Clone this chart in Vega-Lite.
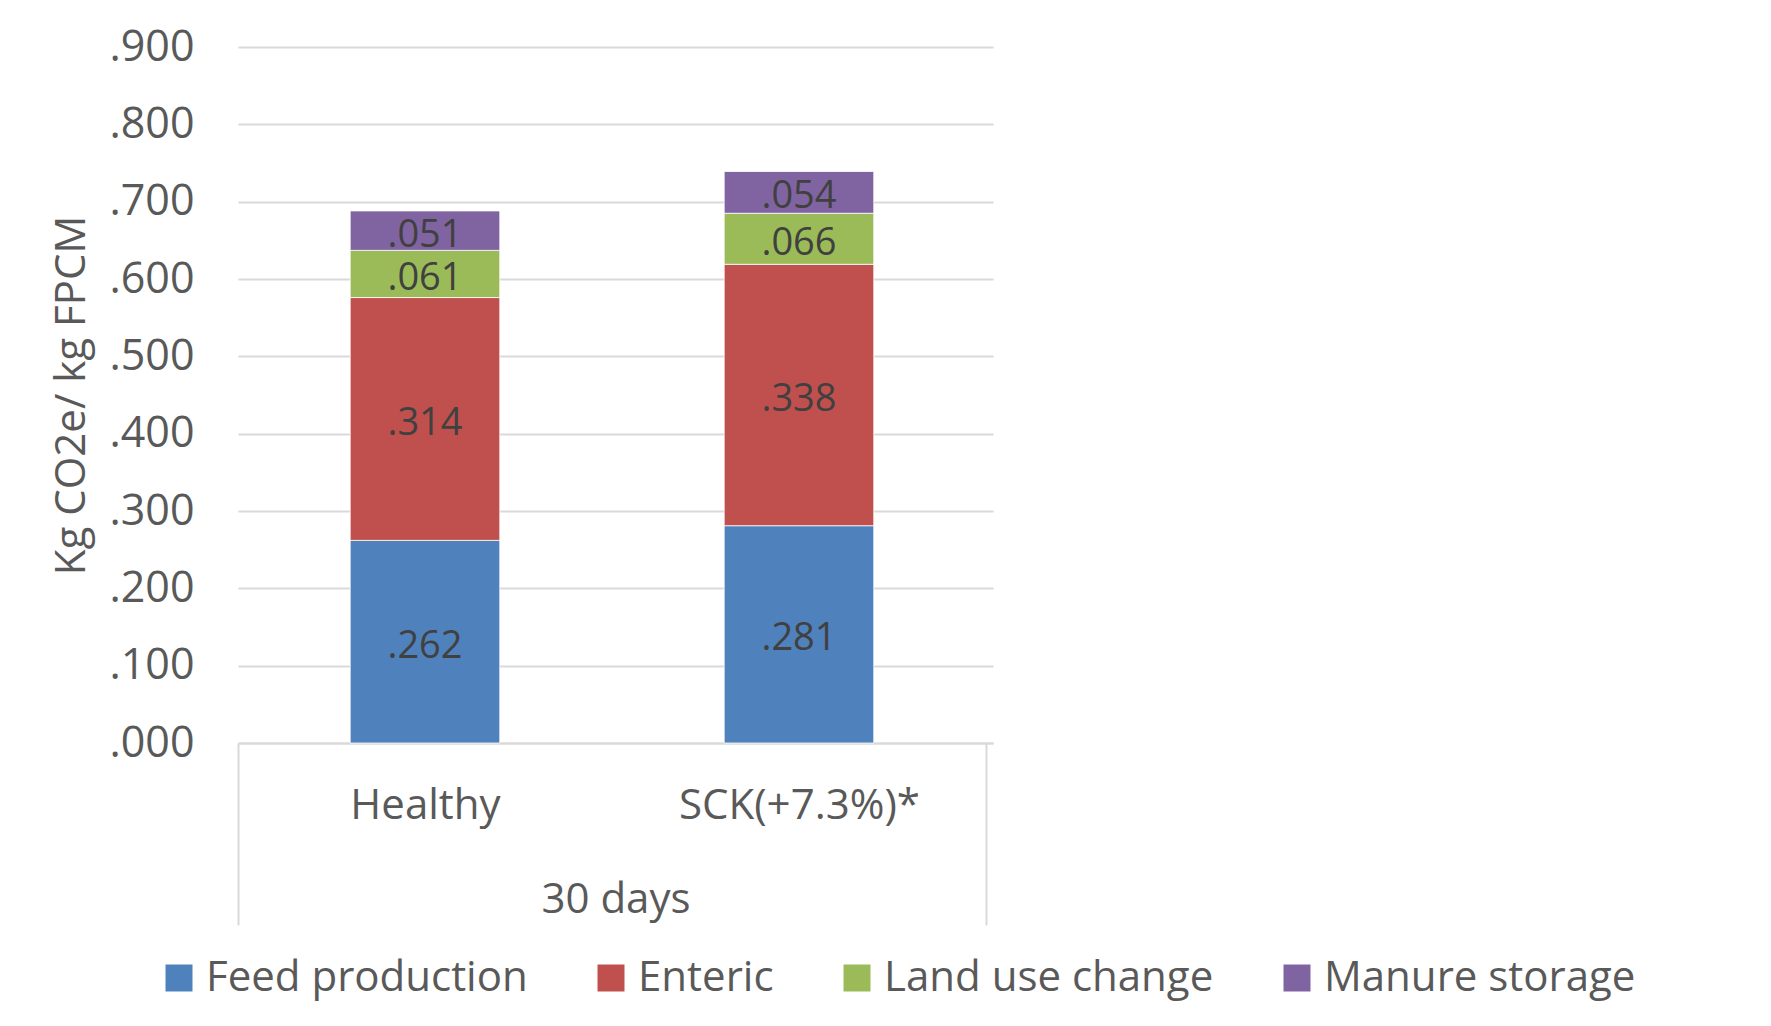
{
  "$schema": "https://vega.github.io/schema/vega-lite/v6.json",
  "width": 755,
  "height": 696,
  "autosize": {"type": "none"},
  "padding": {"left": 238, "top": 47, "right": 778, "bottom": 283},
  "background": "white",
  "config": {"font": "Open Sans", "view": {"stroke": null}},
  "data": {
    "values": [
      {"group": "Healthy", "source": "Feed production", "value": 0.262, "order": 1},
      {"group": "Healthy", "source": "Enteric", "value": 0.314, "order": 2},
      {"group": "Healthy", "source": "Land use change", "value": 0.061, "order": 3},
      {"group": "Healthy", "source": "Manure storage", "value": 0.051, "order": 4},
      {"group": "SCK(+7.3%)*", "source": "Feed production", "value": 0.281, "order": 1},
      {"group": "SCK(+7.3%)*", "source": "Enteric", "value": 0.338, "order": 2},
      {"group": "SCK(+7.3%)*", "source": "Land use change", "value": 0.066, "order": 3},
      {"group": "SCK(+7.3%)*", "source": "Manure storage", "value": 0.054, "order": 4}
    ]
  },
  "transform": [
    {"stack": "value", "groupby": ["group"], "sort": [{"field": "order"}], "as": ["v0", "v1"]},
    {"calculate": "(datum.v0 + datum.v1) / 2", "as": "mid"},
    {"calculate": "substring(format(datum.value, '.3f'), 1)", "as": "label"}
  ],
  "encoding": {
    "x": {
      "field": "group",
      "type": "nominal",
      "sort": ["Healthy", "SCK(+7.3%)*"],
      "scale": {"paddingInner": 0, "paddingOuter": 0.0094, "align": 0},
      "axis": {
        "orient": "bottom",
        "title": "30 days",
        "titleFont": "Open Sans",
        "titleFontSize": 42,
        "titleFontWeight": "normal",
        "titleColor": "#595959",
        "titlePadding": -47,
        "labelAngle": 0,
        "labelFont": "Open Sans",
        "labelFontSize": 42,
        "labelColor": "#595959",
        "labelPadding": -140,
        "labelLimit": 400,
        "domainColor": "#d9d9d9",
        "domainWidth": 2,
        "ticks": true,
        "tickBand": "extent",
        "tickSize": 182,
        "tickColor": "#d9d9d9",
        "tickWidth": 2,
        "tickOpacity": {"condition": {"test": "datum.value === 'Healthy'", "value": 0}, "value": 1},
        "grid": false
      }
    }
  },
  "layer": [
    {
      "mark": {"type": "bar", "width": {"band": 0.4}, "stroke": "white", "strokeWidth": 0.8},
      "encoding": {
        "y": {
          "field": "v0",
          "type": "quantitative",
          "scale": {"domain": [0, 0.9]},
          "axis": {
            "title": "Kg CO2e/ kg FPCM",
            "values": [0, 0.1, 0.2, 0.3, 0.4, 0.5, 0.6, 0.7, 0.8, 0.9],
            "labelExpr": "substring(format(datum.value, '.3f'), 1)",
            "labelFont": "Open Sans",
            "labelFontSize": 43,
            "labelColor": "#595959",
            "labelPadding": 44,
            "ticks": false,
            "domain": false,
            "grid": true,
            "gridColor": "#d9d9d9",
            "gridWidth": 2,
            "titleFont": "Open Sans",
            "titleFontSize": 42,
            "titleFontWeight": "normal",
            "titleColor": "#595959",
            "titlePadding": 15
          }
        },
        "y2": {"field": "v1"},
        "color": {
          "field": "source",
          "type": "nominal",
          "scale": {
            "domain": ["Feed production", "Enteric", "Land use change", "Manure storage"],
            "range": ["#4f81bd", "#c0504d", "#9bbb59", "#8064a2"]
          },
          "legend": {
            "orient": "none",
            "legendX": -80,
            "legendY": 910,
            "direction": "horizontal",
            "columns": 4,
            "title": null,
            "padding": 0,
            "symbolType": "square",
            "symbolSize": 729,
            "symbolStrokeWidth": 0,
            "symbolOpacity": 1,
            "labelFont": "Open Sans",
            "labelFontSize": 42,
            "labelColor": "#595959",
            "labelOffset": 6,
            "labelLimit": 600,
            "columnPadding": 62
          }
        }
      }
    },
    {
      "mark": {"type": "text", "font": "Open Sans", "fontSize": 38, "color": "#404040", "align": "center", "baseline": "middle", "dy": 5},
      "encoding": {
        "y": {
          "field": "mid",
          "type": "quantitative",
          "axis": {
            "title": "Kg CO2e/ kg FPCM",
            "values": [0, 0.1, 0.2, 0.3, 0.4, 0.5, 0.6, 0.7, 0.8, 0.9],
            "labelExpr": "substring(format(datum.value, '.3f'), 1)",
            "labelFont": "Open Sans",
            "labelFontSize": 43,
            "labelColor": "#595959",
            "labelPadding": 44,
            "ticks": false,
            "domain": false,
            "grid": true,
            "gridColor": "#d9d9d9",
            "gridWidth": 2,
            "titleFont": "Open Sans",
            "titleFontSize": 42,
            "titleFontWeight": "normal",
            "titleColor": "#595959",
            "titlePadding": 15
          }
        },
        "text": {"field": "label", "type": "nominal"}
      }
    }
  ]
}
